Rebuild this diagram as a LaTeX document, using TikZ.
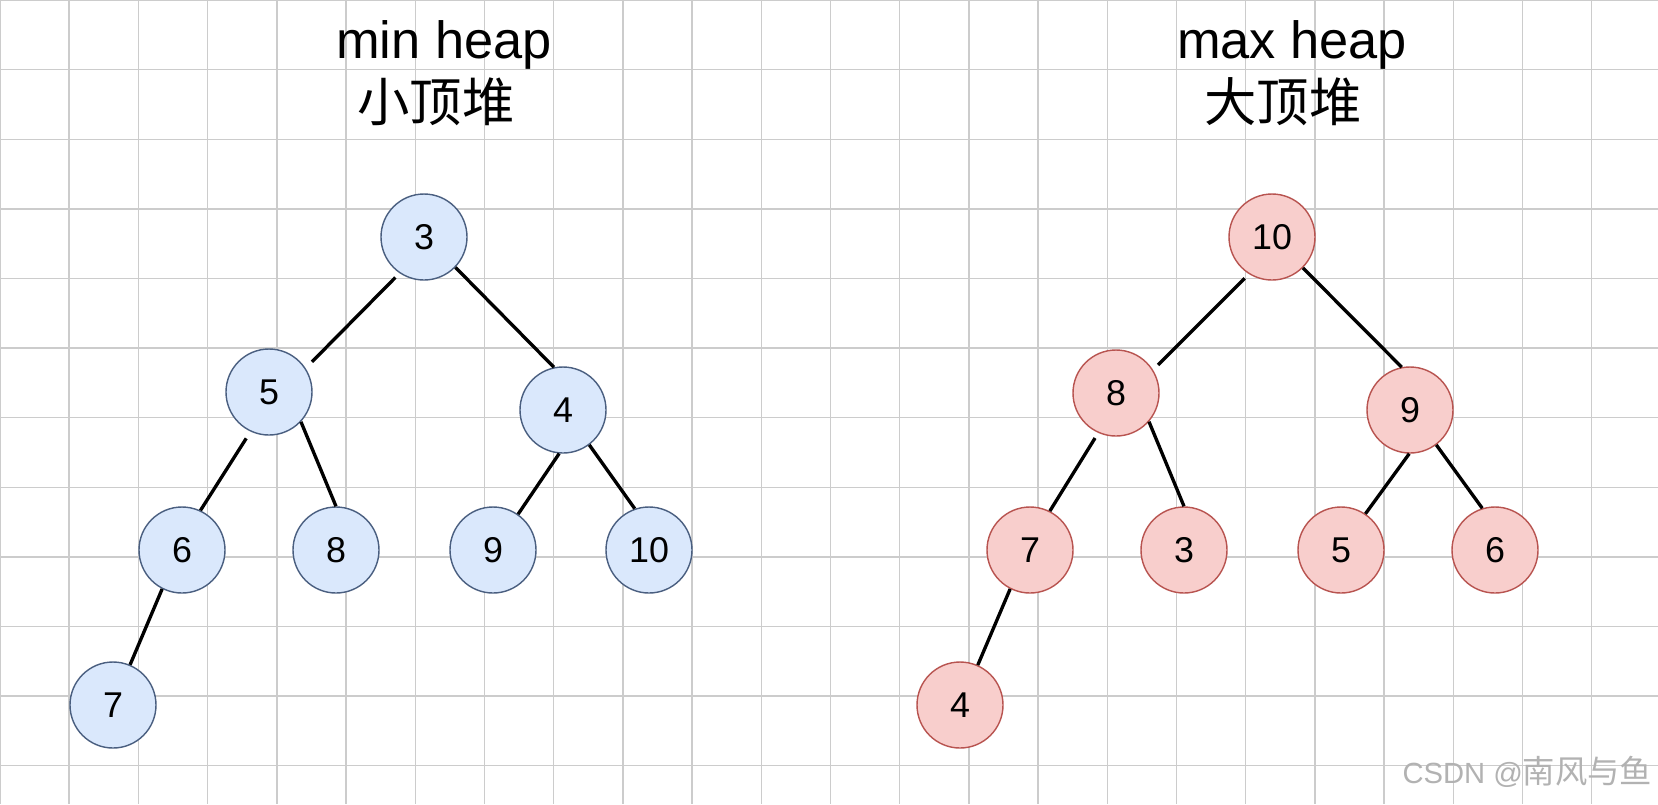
\documentclass[tikz,border=0pt]{standalone}
\usepackage{fontspec}
\setmainfont{Liberation Sans}
\newfontfamily\cjk{Noto Sans CJK SC}
\definecolor{minfill}{HTML}{DAE8FC}
\definecolor{mindraw}{HTML}{4A5F80}
\definecolor{maxfill}{HTML}{F8CECC}
\definecolor{maxdraw}{HTML}{B85450}
\tikzset{
  gridline/.style={draw=black!20, line width=0.4pt},
  heading/.style={anchor=base, inner sep=0pt, font=\fontsize{14.9}{17}\selectfont},
  keynode/.style={circle, draw, line width=0.4pt, minimum size=0.86cm, inner sep=0pt,
    font=\fontsize{10.2}{12}\selectfont},
  minkey/.style={keynode, fill=minfill, draw=mindraw},
  maxkey/.style={keynode, fill=maxfill, draw=maxdraw},
  link/.style={draw=black, line width=0.95pt}
}
\begin{document}
\begin{tikzpicture}[x=0.1mm, y=-0.1mm]
		\useasboundingbox (0,0) rectangle (1658,804);
		\fill[white] (0,0) rectangle (1658,804);

		% background grid
		\foreach \i in {0,...,23}
			\draw[gridline] (\i*69.2,0) -- (\i*69.2,804);
		\foreach \j in {0,...,11}
			\draw[gridline] (0,\j*69.6) -- (1658,\j*69.6);

		% titles
		\node[heading] (mintitle) at (444,58) {min heap};
		\node[heading] (minsub) at (436,121) {\cjk 小顶堆};
		\node[heading] (maxtitle) at (1292,58) {max heap};
		\node[heading] (maxsub) at (1283,121) {\cjk 大顶堆};

		% min heap
		\node[minkey] (m3) at (424,237) {3};
		\node[minkey] (m5) at (269,392) {5};
		\node[minkey] (m4) at (563,410) {4};
		\node[minkey] (m6) at (182,550) {6};
		\node[minkey] (m8) at (336,550) {8};
		\node[minkey] (m9) at (493,550) {9};
		\node[minkey] (m10) at (649,550) {10};
		\node[minkey] (m7) at (113,705) {7};

		\draw[link, shorten <=0.6mm, shorten >=0.9mm] (m3.-124) -- (m5.33);
		\draw[link] (m3.-44) -- (m4.102);
		\draw[link, shorten <=0.8mm] (m5.-115) -- (m6.65);
		\draw[link] (m5.-43) -- (m8.90);
		\draw[link] (m4.-95) -- (m9.55);
		\draw[link] (m4.-53) -- (m10.109);
		\draw[link] (m6.-117) -- (m7.67);

		% max heap
		\node[maxkey] (x10) at (1272,237) {10};
		\node[maxkey] (x8) at (1116,393) {8};
		\node[maxkey] (x9) at (1410,410) {9};
		\node[maxkey] (x7) at (1030,550) {7};
		\node[maxkey] (x3) at (1184,550) {3};
		\node[maxkey] (x5) at (1341,550) {5};
		\node[maxkey] (x6) at (1495,550) {6};
		\node[maxkey] (x4) at (960,705) {4};

		\draw[link, shorten <=0.6mm, shorten >=0.7mm] (x10.-122) -- (x8.32);
		\draw[link] (x10.-45) -- (x9.101);
		\draw[link, shorten <=0.6mm] (x8.-114) -- (x7.63);
		\draw[link] (x8.-41) -- (x3.90);
		\draw[link] (x9.-91) -- (x5.56);
		\draw[link] (x9.-53) -- (x6.107);
		\draw[link] (x7.-117) -- (x4.66);

		% watermark
		\node[anchor=base east, inner sep=0pt, text=black!30, font=\fontsize{8.3}{10}\selectfont]
			(mark) at (1653,783) {CSDN @{\cjk\fontsize{9.2}{10}\selectfont 南风与鱼}};
	\end{tikzpicture}
\end{document}
